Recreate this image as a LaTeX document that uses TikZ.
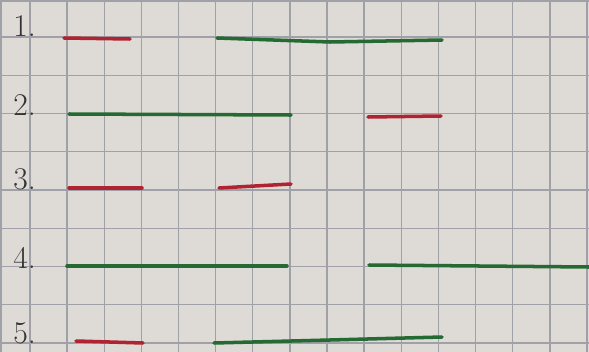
\documentclass[tikz,border=0pt]{standalone}
\usepackage{tikz}

\definecolor{paper}{RGB}{222,218,213}
\definecolor{gridline}{RGB}{160,160,168}
\definecolor{penred}{RGB}{176,36,50}
\definecolor{pengreen}{RGB}{36,106,50}

\tikzset{
  redpen/.style={penred,line width=2pt,line cap=round},
  greenpen/.style={pengreen,line width=2pt,line cap=round},
  rowlabel/.style={anchor=base west,inner sep=0pt,font=\fontsize{18}{22}\selectfont,text=black!80}
}

\begin{document}
\begin{tikzpicture}[x=0.02cm,y=-0.02cm]
  % page is 589 x 352 px, 1 unit = 1 px, y downwards
  \useasboundingbox (0,0) rectangle (589,352);
  \fill[paper] (0,0) rectangle (589,352);
  % squared paper: columns every 37.13 px from x=30, rows every 38.25 px from y=37
  \foreach \i in {0,...,15} {
    \draw[gridline,line width=0.8pt] ({30+37.13*\i},0) -- ({30+37.13*\i},352);
  }
  \draw[gridline,line width=0.8pt] (0.8,0) -- (0.8,352);
  \foreach \j in {0,...,8} {
    \draw[gridline,line width=0.8pt] (0,{37+38.25*\j}) -- (589,{37+38.25*\j});
  }
  \draw[gridline,line width=0.8pt] (0,1) -- (589,1);
  % row numbers
  \foreach \y/\lab/\nm in {36/1./one, 115/2./two, 189/3./three, 268/4./four, 343/5./five} {
    \node[rowlabel] (\nm) at (13,\y) {\lab};
  }
  % row 1
  \draw[redpen] (64,38) -- (130,39);
  \draw[greenpen] (217,38) -- (330,42) -- (442,40);
  % row 2
  \draw[greenpen] (69,114) -- (291,115);
  \draw[redpen] (368,117) -- (441,116);
  % row 3
  \draw[redpen] (69,188) -- (142,188);
  \draw[redpen] (219,188) -- (291,184);
  % row 4
  \draw[greenpen] (67,266) -- (287,266);
  \draw[greenpen] (369,265) -- (589,267);
  % row 5
  \draw[redpen] (76,341) -- (143,343);
  \draw[greenpen] (214,343) -- (330,340) -- (442,337);
\end{tikzpicture}
\end{document}
